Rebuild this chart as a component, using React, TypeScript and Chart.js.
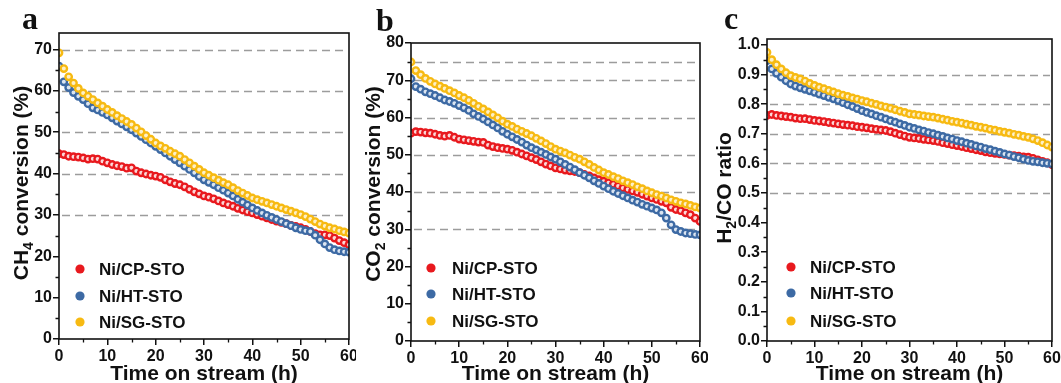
import React, { useEffect, useRef } from 'react';
import { Chart, registerables } from 'chart.js';

Chart.register(...registerables);

// ---- data -------------------------------------------------------------
const TIME_H = [
  0, 1, 2, 3, 4, 5, 6, 7, 8, 9, 10, 11, 12, 13, 14, 15, 16, 17, 18, 19, 20,
  21, 22, 23, 24, 25, 26, 27, 28, 29, 30, 31, 32, 33, 34, 35, 36, 37, 38, 39, 40,
  41, 42, 43, 44, 45, 46, 47, 48, 49, 50, 51, 52, 53, 54, 55, 56, 57, 58, 59, 60,
];

const SERIES_LABELS = ['Ni/CP-STO', 'Ni/HT-STO', 'Ni/SG-STO'];

// CH4 conversion (%)
const CH4_CP = [
  44.8, 44.6, 44.2, 44.1, 44.0, 43.8, 43.5, 43.6, 43.5, 43.0, 42.6, 42.2, 41.9, 41.7, 41.3, 41.4, 40.6, 40.2, 39.9, 39.6, 39.4,
  39.1, 38.5, 38.0, 37.6, 37.3, 36.8, 36.2, 35.6, 35.1, 34.6, 34.3, 33.9, 33.4, 32.9, 32.5, 32.1, 31.6, 31.2, 30.8, 30.5,
  30.1, 29.7, 29.3, 28.9, 28.5, 28.2, 27.9, 27.5, 27.2, 26.9, 26.5, 26.0, 25.5, 25.2, 25.2, 25.0, 24.4, 23.8, 23.3, 22.8,
];
const CH4_HT = [
  66.0, 62.2, 60.8, 59.6, 58.7, 57.9, 56.9, 55.9, 55.4, 54.8, 54.2, 53.5, 52.7, 52.0, 51.3, 50.6, 49.8, 49.0, 48.2, 47.4, 46.6,
  45.8, 45.0, 44.2, 43.4, 42.6, 41.8, 41.0, 40.2, 39.3, 38.5, 37.9, 37.3, 36.6, 36.0, 35.3, 34.6, 33.8, 33.1, 32.4, 31.7,
  31.1, 30.5, 29.9, 29.4, 28.9, 28.4, 27.9, 27.4, 26.9, 26.5, 26.2, 26.0, 25.1, 24.0, 23.0, 22.1, 21.6, 21.3, 21.1, 21.0,
];
const CH4_SG = [
  69.2, 65.4, 63.4, 61.9, 60.6, 59.5, 58.7, 57.9, 57.1, 56.3, 55.5, 54.8, 54.0, 53.3, 52.6, 51.9, 51.0, 50.1, 49.2, 48.3, 47.4,
  46.7, 46.1, 45.4, 44.8, 44.2, 43.4, 42.6, 41.8, 41.0, 40.2, 39.6, 39.0, 38.4, 37.8, 37.3, 36.6, 35.9, 35.3, 34.7, 34.1,
  33.7, 33.3, 32.9, 32.5, 32.1, 31.7, 31.3, 30.9, 30.5, 30.1, 29.6, 29.0, 28.4, 27.8, 27.3, 26.9, 26.6, 26.2, 25.9, 25.6,
];

// CO2 conversion (%)
const CO2_CP = [
  55.8, 56.2, 56.1, 55.9, 55.8, 55.5, 55.2, 55.0, 55.2, 54.7, 54.2, 54.0, 53.8, 53.6, 53.4, 53.3, 52.6, 52.2, 51.9, 51.7, 51.5,
  51.2, 50.7, 50.2, 49.7, 49.2, 48.7, 48.1, 47.5, 47.0, 46.5, 46.2, 45.9, 45.7, 45.5, 45.2, 44.7, 44.3, 43.8, 43.3, 42.9,
  42.5, 42.1, 41.6, 41.1, 40.7, 40.3, 39.9, 39.4, 38.9, 38.4, 38.0, 37.5, 37.1, 35.9, 35.3, 35.0, 34.4, 33.9, 33.0, 32.1,
];
const CO2_HT = [
  70.4, 68.3, 67.6, 66.9, 66.4, 65.9, 65.3, 64.7, 64.3, 63.8, 63.2, 62.6, 61.9, 61.0, 60.3, 59.6, 58.8, 58.0, 57.2, 56.3, 55.5,
  54.8, 54.1, 53.4, 52.6, 51.9, 51.3, 50.7, 50.1, 49.4, 48.8, 48.1, 47.4, 46.7, 46.0, 45.2, 44.5, 43.8, 43.0, 42.3, 41.6,
  40.9, 40.2, 39.6, 39.0, 38.4, 37.8, 37.3, 36.7, 36.2, 35.7, 35.2, 34.4, 33.0, 31.2, 29.9, 29.4, 29.0, 28.8, 28.6, 28.5,
];
const CO2_SG = [
  74.9, 72.6, 71.5, 70.5, 69.7, 69.0, 68.4, 67.8, 67.2, 66.6, 65.9, 65.3, 64.6, 63.8, 63.0, 62.3, 61.5, 60.7, 59.9, 59.0, 58.2,
  57.6, 56.9, 56.3, 55.7, 55.1, 54.4, 53.7, 53.0, 52.2, 51.5, 51.0, 50.5, 49.9, 49.3, 48.8, 48.1, 47.4, 46.6, 45.9, 45.2,
  44.7, 44.1, 43.6, 43.0, 42.5, 42.0, 41.4, 40.9, 40.3, 39.8, 39.3, 38.9, 38.4, 37.9, 37.5, 37.1, 36.8, 36.4, 36.0, 35.7,
];

// H2/CO ratio
const RATIO_CP = [
  0.762, 0.765, 0.762, 0.760, 0.758, 0.756, 0.753, 0.751, 0.751, 0.748, 0.745, 0.743, 0.741, 0.738, 0.736, 0.733, 0.731, 0.729, 0.727, 0.724, 0.722,
  0.720, 0.717, 0.715, 0.713, 0.711, 0.707, 0.702, 0.697, 0.692, 0.688, 0.686, 0.684, 0.681, 0.679, 0.677, 0.674, 0.670, 0.667, 0.663, 0.660,
  0.657, 0.653, 0.650, 0.646, 0.643, 0.639, 0.636, 0.634, 0.632, 0.630, 0.628, 0.626, 0.624, 0.622, 0.621, 0.617, 0.612, 0.607, 0.602, 0.596,
];
const RATIO_HT = [
  0.947, 0.919, 0.904, 0.891, 0.879, 0.868, 0.861, 0.855, 0.850, 0.845, 0.840, 0.834, 0.829, 0.823, 0.818, 0.812, 0.805, 0.798, 0.792, 0.785, 0.778,
  0.772, 0.767, 0.761, 0.756, 0.750, 0.744, 0.739, 0.733, 0.728, 0.722, 0.718, 0.713, 0.709, 0.704, 0.700, 0.695, 0.691, 0.686, 0.682, 0.677,
  0.673, 0.668, 0.664, 0.659, 0.655, 0.650, 0.646, 0.641, 0.637, 0.632, 0.628, 0.623, 0.619, 0.614, 0.610, 0.607, 0.605, 0.602, 0.600, 0.598,
];
const RATIO_SG = [
  0.975, 0.950, 0.933, 0.919, 0.906, 0.896, 0.890, 0.885, 0.878, 0.870, 0.863, 0.857, 0.852, 0.846, 0.841, 0.835, 0.830, 0.826, 0.821, 0.817, 0.812,
  0.808, 0.803, 0.799, 0.794, 0.790, 0.786, 0.781, 0.776, 0.772, 0.767, 0.765, 0.763, 0.760, 0.758, 0.756, 0.753, 0.749, 0.746, 0.742, 0.739,
  0.736, 0.732, 0.729, 0.725, 0.722, 0.719, 0.715, 0.712, 0.708, 0.705, 0.702, 0.698, 0.695, 0.691, 0.688, 0.683, 0.677, 0.670, 0.662, 0.655,
];

// dashed guide lines and minor tick positions
const CH4_GUIDES = [30, 40, 50, 60, 70];
const CO2_GUIDES = [30, 40, 50, 60, 70, 75];
const RATIO_GUIDES = [0.5, 0.6, 0.7, 0.8, 0.9];
const X_MINOR = [5, 15, 25, 35, 45, 55];
const CH4_MINOR = [5, 15, 25, 35, 45, 55, 65];
const CO2_MINOR = [5, 15, 25, 35, 45, 55, 65, 75];
const RATIO_MINOR = [0.05, 0.15, 0.25, 0.35, 0.45, 0.55, 0.65, 0.75, 0.85, 0.95];

// ---- styling ----------------------------------------------------------
const COLORS = ['#E8191E', '#3D6AA4', '#F7BA12'];
const FILLS = ['#fbd9d9', '#dbe5f1', '#fdf0c8'];
const SANS = '"Liberation Sans", Arial, Helvetica, sans-serif';
const INK = '#111111';

type TitlePart = { t: string; sub?: boolean };

type Panel = {
  letter: string;
  left: number;
  width: number;
  yWidth: number;
  padRight: number;
  padTop: number;
  xHeight: number;
  yMax: number;
  yStep: number;
  decimals: number;
  guides: number[];
  yMinor: number[];
  values: number[][];
  yTitle: TitlePart[];
  yTitleX: number;
  yTitleShift: number;
  legendDx: number;
  legendTextDx: number;
  legendRows: number[];
  letterLeft: number;
  letterTop: number;
};

const PANELS: Panel[] = [
  {
    letter: 'a', left: 0, width: 356, yWidth: 59, padRight: 7, padTop: 33, xHeight: 44,
    yMax: 74, yStep: 10, decimals: 0, guides: CH4_GUIDES, yMinor: CH4_MINOR,
    values: [CH4_CP, CH4_HT, CH4_SG],
    yTitle: [{ t: 'CH' }, { t: '4', sub: true }, { t: ' conversion (%)' }],
    yTitleX: 21, yTitleShift: -3,
    legendDx: 21, legendTextDx: 40, legendRows: [70, 43, 17],
    letterLeft: 22, letterTop: 2,
  },
  {
    letter: 'b', left: 356, width: 352, yWidth: 55, padRight: 8, padTop: 43, xHeight: 42,
    yMax: 80, yStep: 10, decimals: 0, guides: CO2_GUIDES, yMinor: CO2_MINOR,
    values: [CO2_CP, CO2_HT, CO2_SG],
    yTitle: [{ t: 'CO' }, { t: '2', sub: true }, { t: ' conversion (%)' }],
    yTitleX: 17, yTitleShift: -8,
    legendDx: 20, legendTextDx: 41, legendRows: [73, 47, 20],
    letterLeft: 376, letterTop: 4,
  },
  {
    letter: 'c', left: 708, width: 353, yWidth: 59, padRight: 9, padTop: 39, xHeight: 42,
    yMax: 1.02, yStep: 0.1, decimals: 1, guides: RATIO_GUIDES, yMinor: RATIO_MINOR,
    values: [RATIO_CP, RATIO_HT, RATIO_SG],
    yTitle: [{ t: 'H' }, { t: '2', sub: true }, { t: '/CO ratio' }],
    yTitleX: 16, yTitleShift: -2,
    legendDx: 24, legendTextDx: 43, legendRows: [74, 48, 20],
    letterLeft: 724, letterTop: 2,
  },
];

const TITLE_SIZE = 21;
const SUB_SIZE = 14;

function drawRichText(ctx: CanvasRenderingContext2D, parts: TitlePart[], cx: number, baseline: number) {
  const widths = parts.map((p) => {
    ctx.font = `bold ${p.sub ? SUB_SIZE : TITLE_SIZE}px ${SANS}`;
    return ctx.measureText(p.t).width;
  });
  const total = widths.reduce((s, w) => s + w, 0);
  let x = cx - total / 2;
  ctx.textAlign = 'left';
  ctx.textBaseline = 'alphabetic';
  parts.forEach((p, i) => {
    ctx.font = `bold ${p.sub ? SUB_SIZE : TITLE_SIZE}px ${SANS}`;
    ctx.fillText(p.t, x, baseline + (p.sub ? 5 : 0));
    x += widths[i];
  });
}

function makeDecor(p: Panel) {
  return {
    id: 'panelDecor',
    beforeDatasetsDraw(chart: any) {
      const { ctx, chartArea: a } = chart;
      const y = chart.scales.y;
      ctx.save();
      ctx.setLineDash([8, 5]);
      ctx.strokeStyle = '#9c9c9c';
      ctx.lineWidth = 1.4;
      for (const v of p.guides) {
        const py = Math.round(y.getPixelForValue(v)) + 0.5;
        ctx.beginPath();
        ctx.moveTo(a.left + 3, py);
        ctx.lineTo(a.right - 2, py);
        ctx.stroke();
      }
      ctx.restore();
    },
    afterDraw(chart: any) {
      const { ctx, chartArea: a } = chart;
      const x = chart.scales.x;
      const y = chart.scales.y;
      ctx.save();
      ctx.fillStyle = INK;
      ctx.strokeStyle = INK;

      // frame
      ctx.lineWidth = 1.6;
      ctx.strokeRect(a.left, a.top, a.right - a.left, a.bottom - a.top);

      // minor ticks
      ctx.lineWidth = 1.3;
      ctx.beginPath();
      for (const v of X_MINOR) {
        const px = Math.round(x.getPixelForValue(v)) + 0.5;
        ctx.moveTo(px, a.bottom);
        ctx.lineTo(px, a.bottom + 3.5);
      }
      for (const v of p.yMinor) {
        const py = Math.round(y.getPixelForValue(v)) + 0.5;
        ctx.moveTo(a.left, py);
        ctx.lineTo(a.left - 3.5, py);
      }
      ctx.stroke();

      // y axis title
      ctx.save();
      ctx.translate(p.yTitleX, (a.top + a.bottom) / 2 + p.yTitleShift);
      ctx.rotate(-Math.PI / 2);
      drawRichText(ctx, p.yTitle, 0, 7);
      ctx.restore();

      // x axis title
      ctx.font = `bold ${TITLE_SIZE}px ${SANS}`;
      ctx.textAlign = 'center';
      ctx.textBaseline = 'alphabetic';
      ctx.fillText('Time on stream (h)', (a.left + a.right) / 2, 380);

      // legend
      ctx.font = `bold 17px ${SANS}`;
      ctx.textAlign = 'left';
      ctx.textBaseline = 'middle';
      SERIES_LABELS.forEach((label, i) => {
        const ly = a.bottom - p.legendRows[i];
        ctx.fillStyle = COLORS[i];
        ctx.beginPath();
        ctx.arc(a.left + p.legendDx, ly, 4.6, 0, Math.PI * 2);
        ctx.fill();
        ctx.fillStyle = INK;
        ctx.fillText(label, a.left + p.legendTextDx, ly + 1);
      });
      ctx.restore();
    },
  };
}

function PanelChart({ p }: { p: Panel }) {
  const ref = useRef<HTMLCanvasElement | null>(null);

  useEffect(() => {
    if (!ref.current) return;
    const tickFont = { family: SANS, size: 16, weight: 'bold' as const };
    const chart = new Chart(ref.current, {
      type: 'scatter',
      data: {
        datasets: SERIES_LABELS.map((label, i) => ({
          label,
          data: TIME_H.map((t, k) => ({ x: t, y: p.values[i][k] })),
          showLine: false,
          pointStyle: 'circle',
          pointRadius: 3.2,
          pointBorderWidth: 2.4,
          pointBorderColor: COLORS[i],
          pointBackgroundColor: FILLS[i],
          order: 3 - i,
        })),
      },
      options: {
        animation: false,
        responsive: false,
        layout: { padding: { left: 0, right: p.padRight, top: p.padTop, bottom: 0 } },
        plugins: { legend: { display: false }, tooltip: { enabled: false }, title: { display: false } },
        scales: {
          x: {
            type: 'linear',
            min: 0,
            max: 60,
            afterFit: (s: any) => {
              s.height = p.xHeight;
              s.paddingLeft = 0;
              s.paddingRight = 0;
            },
            ticks: { stepSize: 10, color: INK, font: tickFont, padding: 2, maxRotation: 0, includeBounds: false },
            grid: { drawOnChartArea: false, drawTicks: true, tickLength: 6, color: INK, lineWidth: 1.5 },
            border: { display: false },
          },
          y: {
            type: 'linear',
            min: 0,
            max: p.yMax,
            afterFit: (s: any) => {
              s.width = p.yWidth;
              s.paddingTop = 0;
              s.paddingBottom = 0;
            },
            ticks: {
              stepSize: p.yStep,
              color: INK,
              font: tickFont,
              padding: 1,
              includeBounds: false,
              callback: (v: any) => Number(v).toFixed(p.decimals),
            },
            grid: { drawOnChartArea: false, drawTicks: true, tickLength: 6, color: INK, lineWidth: 1.5 },
            border: { display: false },
          },
        },
      },
      plugins: [makeDecor(p)],
    } as any);
    return () => chart.destroy();
  }, [p]);

  return (
    <canvas
      ref={ref}
      width={p.width}
      height={383}
      style={{ position: 'absolute', left: p.left, top: 0, width: p.width, height: 383 }}
    />
  );
}

export default function App() {
  return (
    <div style={{ position: 'absolute', left: 0, top: 0, width: 1061, height: 383, background: '#ffffff', overflow: 'hidden' }}>
      {PANELS.map((p) => (
        <PanelChart key={p.letter} p={p} />
      ))}
      {PANELS.map((p) => (
        <div
          key={`letter-${p.letter}`}
          style={{
            position: 'absolute',
            left: p.letterLeft,
            top: p.letterTop,
            fontFamily: '"Liberation Serif", "Times New Roman", serif',
            fontWeight: 'bold',
            fontSize: 32,
            lineHeight: '32px',
            color: INK,
          }}
        >
          {p.letter}
        </div>
      ))}
    </div>
  );
}
